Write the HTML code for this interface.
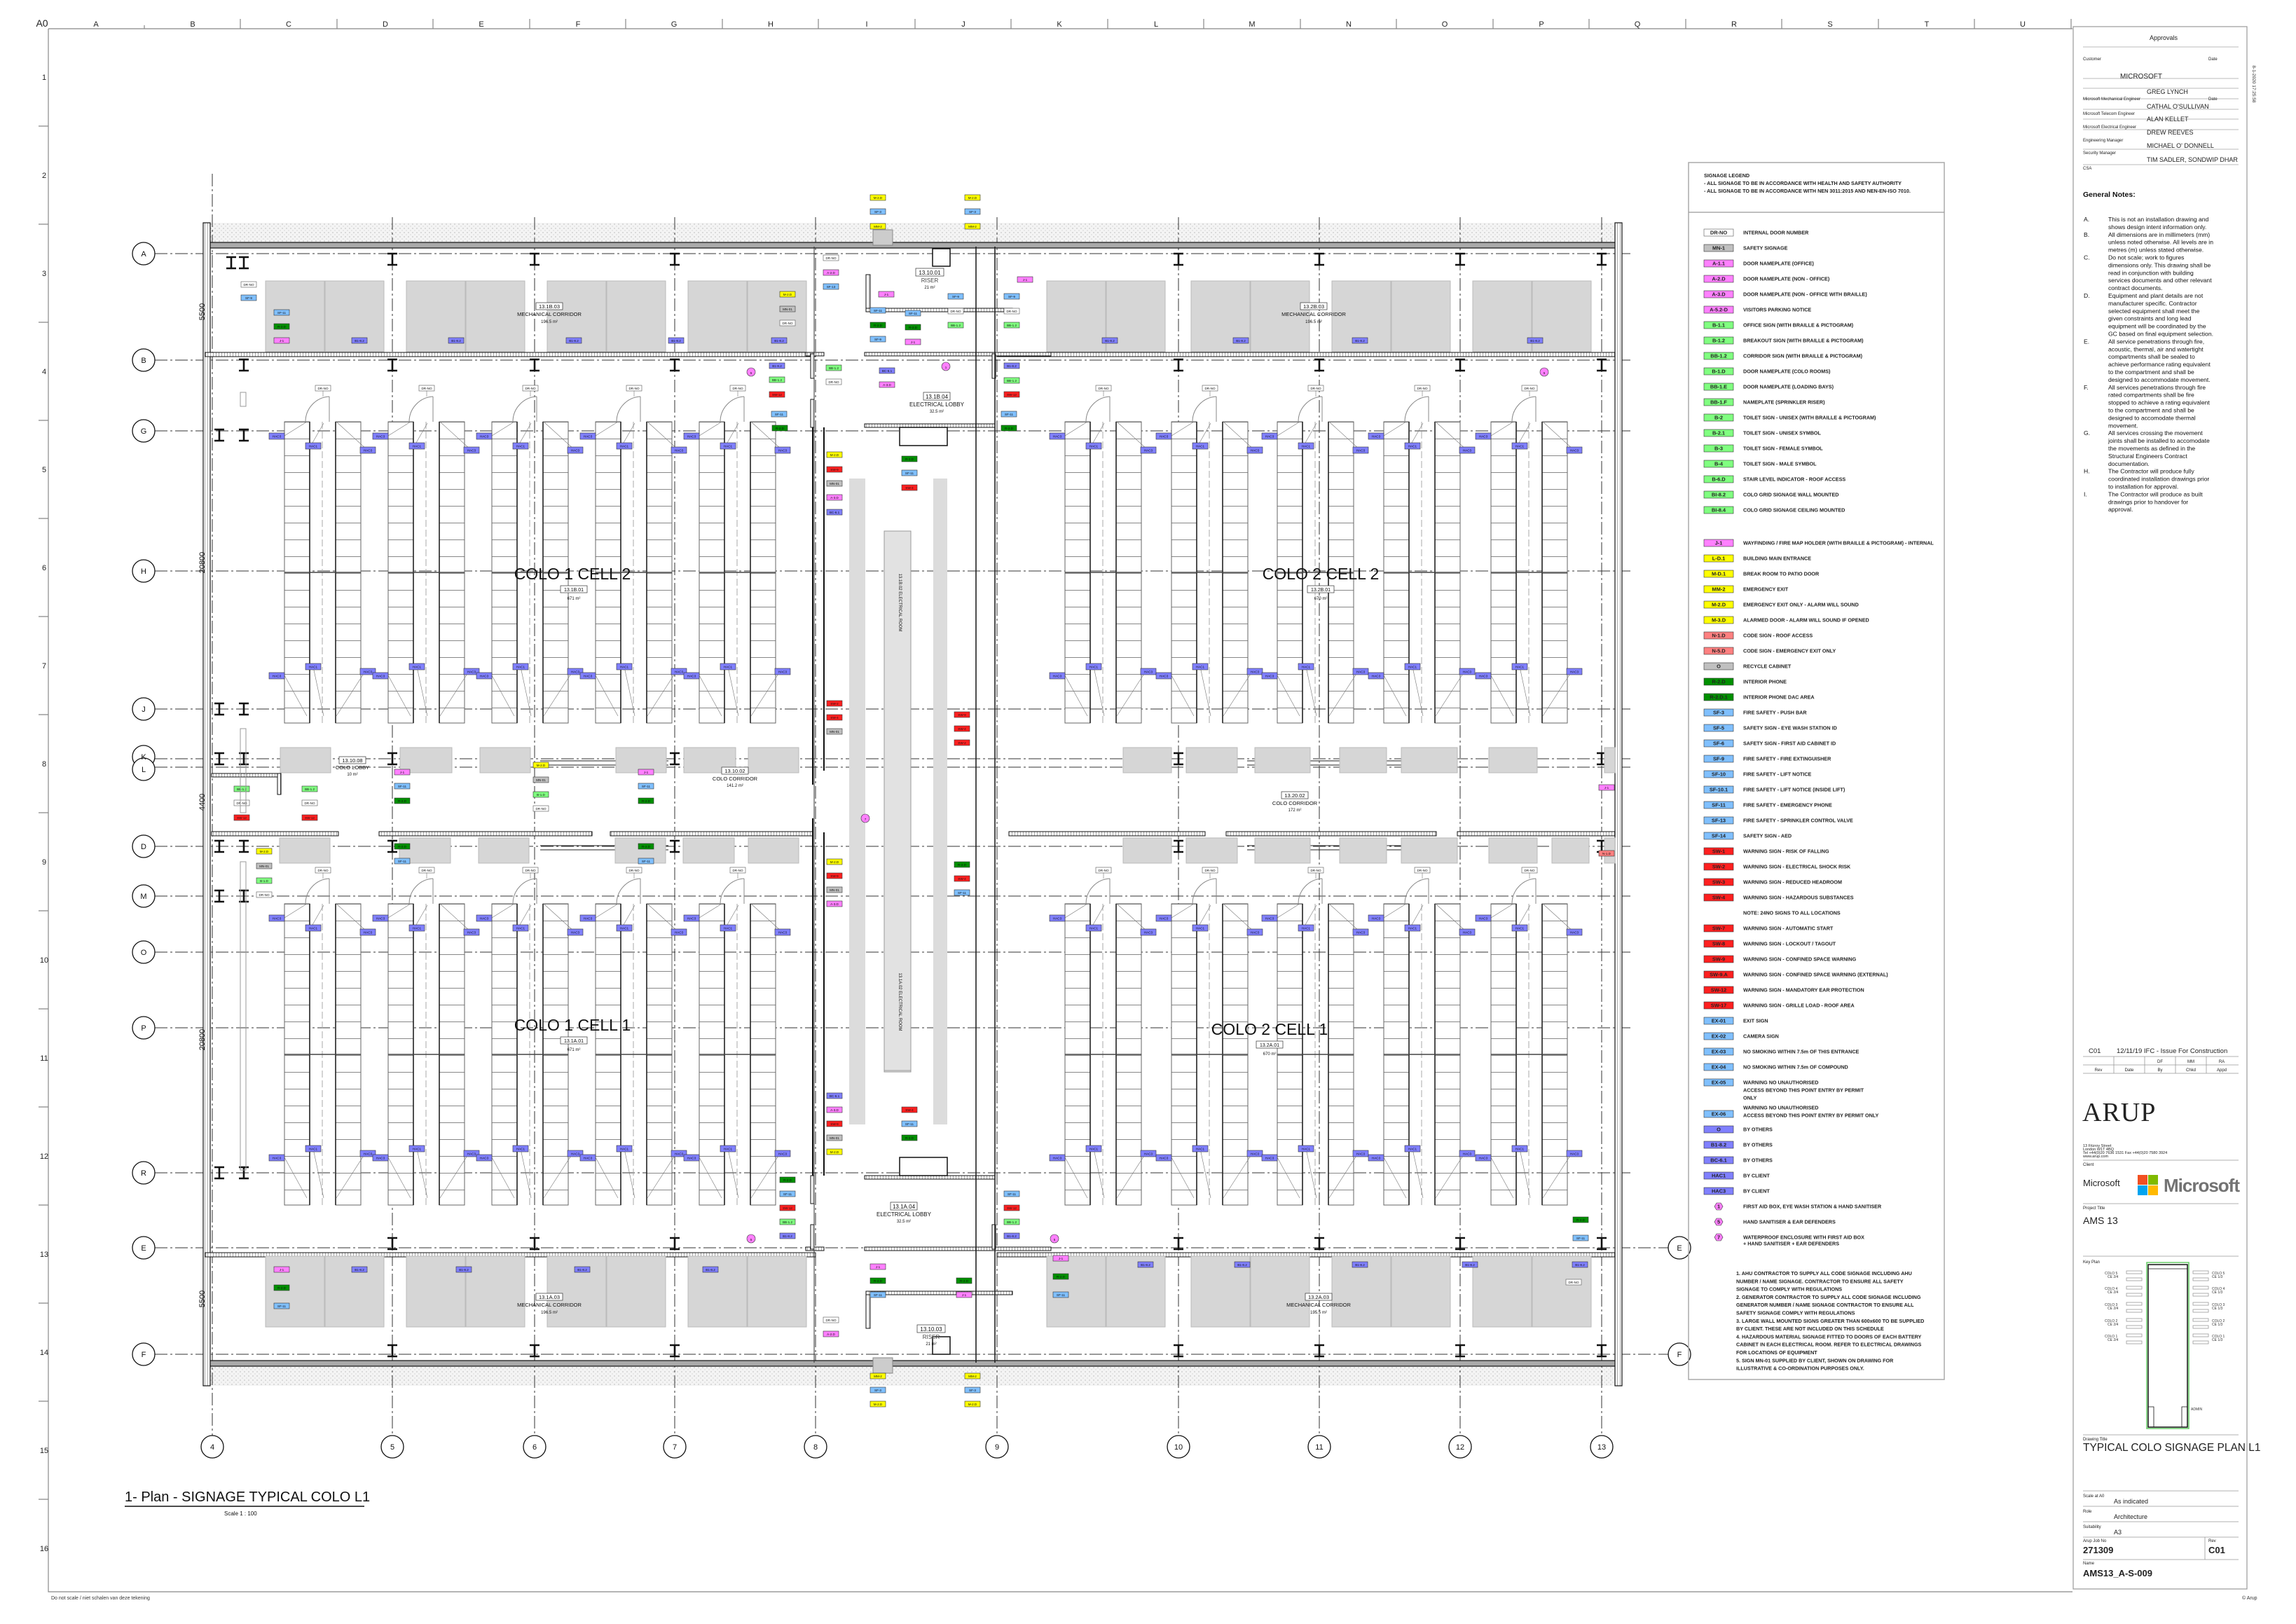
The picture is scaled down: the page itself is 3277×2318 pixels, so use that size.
<!DOCTYPE html>
<html><head><meta charset="utf-8"><style>
html,body{margin:0;padding:0;background:#fff;}
svg{display:block;font-family:"Liberation Sans",sans-serif;}
.tt{font-size:4.6px;text-anchor:middle;fill:#111}
.lg{font-size:7.2px;font-weight:bold;fill:#222}
.lb{font-size:7.4px;font-weight:bold;text-anchor:middle;fill:#222}
.pu{fill:#8080ff;stroke:#333;stroke-width:.6}
.pk{fill:#ff80ff;stroke:#333;stroke-width:.6}
.gr{fill:#80ff80;stroke:#333;stroke-width:.6}
.dg{fill:#009000;stroke:#333;stroke-width:.6}
.ye{fill:#ffff00;stroke:#333;stroke-width:.6}
.bl{fill:#80c0ff;stroke:#333;stroke-width:.6}
.rd{fill:#ff2020;stroke:#333;stroke-width:.6}
.sa{fill:#ff8080;stroke:#333;stroke-width:.6}
.gy{fill:#c0c0c0;stroke:#333;stroke-width:.6}
.wh{fill:#fff;stroke:#555;stroke-width:.6}
.gb{fill:#d6d6d6;stroke:#bbb;stroke-width:1}
.grid{stroke:#333;stroke-width:1;stroke-dasharray:18 4 3 4;fill:none}
.wall{fill:#aaa;stroke:#111;stroke-width:1.2}
.ld{stroke:#777;stroke-width:.6;fill:none}
.tb{font-size:6px;fill:#222}
.tn{font-size:8.5px;fill:#111}
.gn{font-size:8.6px;fill:#111}
</style></head><body>
<svg width="3277" height="2318" viewBox="0 0 3277 2318" xmlns="http://www.w3.org/2000/svg">
<defs>
<pattern id="rows" width="36" height="24" patternUnits="userSpaceOnUse"><rect width="36" height="24" fill="#fff"/><line x1="0" y1="0.5" x2="36" y2="0.5" stroke="#888" stroke-width="1"/></pattern>
<pattern id="dots" width="6" height="6" patternUnits="userSpaceOnUse"><rect width="6" height="6" fill="#f4f4f4"/><circle cx="1" cy="2" r=".6" fill="#999"/><circle cx="4" cy="5" r=".5" fill="#aaa"/></pattern>
<pattern id="hatch" width="4" height="4" patternUnits="userSpaceOnUse"><rect width="4" height="4" fill="#fff"/><line x1="0" y1="0" x2="0" y2="4" stroke="#555" stroke-width="1"/></pattern>
<g id="ib"><path d="M-7,-8H7M-7,8H7M0,-8V8" stroke="#111" stroke-width="2.6" fill="none"/></g>
<g id="rk">
<rect x="0" y="0" width="36" height="430" fill="url(#rows)" stroke="#666" stroke-width="1"/>
<rect x="73" y="0" width="36" height="430" fill="url(#rows)" stroke="#666" stroke-width="1"/>
<line x1="36" y1="0" x2="36" y2="430" stroke="#222" stroke-width="1.6"/>
<line x1="73" y1="0" x2="73" y2="430" stroke="#222" stroke-width="1.6"/>
<line x1="54" y1="0" x2="54" y2="430" stroke="#aaa" stroke-dasharray="10 4"/>
<line x1="0" y1="215" x2="109" y2="215" stroke="#444" stroke-width="1.4"/>
<path d="M64,0 V-36 M64,-36 A36,36 0 0 0 30,0" fill="none" stroke="#888" stroke-width="1"/>
<line x1="55" y1="-44" x2="55" y2="-36" class="ld"/>
<rect x="44" y="-52" width="22" height="8" class="wh"/><text x="55" y="-46.2" class="tt">DR-NO</text>
<path d="M0,20 L32,0 M40,30 L56,2 M118,40 L74,0 M0,362 L32,420 M40,345 L56,420 M118,352 L74,420" class="ld"/>
<rect x="-22" y="16" width="22" height="9" class="pu"/><text x="-11" y="22.3" class="tt">HAC3</text>
<rect x="30" y="30" width="22" height="9" class="pu"/><text x="41" y="36.3" class="tt">HAC1</text>
<rect x="108" y="36" width="22" height="9" class="pu"/><text x="119" y="42.3" class="tt">HAC3</text>
<rect x="-22" y="358" width="22" height="9" class="pu"/><text x="-11" y="364.3" class="tt">HAC3</text>
<rect x="30" y="345" width="22" height="9" class="pu"/><text x="41" y="351.3" class="tt">HAC1</text>
<rect x="108" y="352" width="22" height="9" class="pu"/><text x="119" y="358.3" class="tt">HAC3</text>
</g>
<g id="blk"><rect x="0" y="0" width="84" height="101" class="gb"/><rect x="85" y="0" width="84" height="101" class="gb"/></g>
</defs>

<!-- sheet frame -->
<g stroke="#888" stroke-width="1.2" fill="none">
<path d="M69,41 H2958 M69,41 V2272 H2958"/>
<path d="M206,36V41 M343,27V41 M481,27V41 M618,27V41 M756,27V41 M893,27V41 M1031,27V41 M1168,27V41 M1306,27V41 M1443,27V41 M1581,27V41 M1718,27V41 M1856,27V41 M1993,27V41 M2131,27V41 M2268,27V41 M2406,27V41 M2543,27V41 M2681,27V41 M2818,27V41 M2956,27V41"/>
<path d="M55,180H69 M55,320H69 M55,460H69 M55,600H69 M55,740H69 M55,880H69 M55,1020H69 M55,1160H69 M55,1300H69 M55,1440H69 M55,1580H69 M55,1720H69 M55,1860H69 M55,2000H69 M55,2140H69"/>
</g>
<g font-size="11" text-anchor="middle" fill="#222">
<text x="60" y="38" font-size="14">A0</text>
<text x="137" y="38">A</text><text x="275" y="38">B</text><text x="412" y="38">C</text><text x="550" y="38">D</text><text x="687" y="38">E</text><text x="825" y="38">F</text><text x="962" y="38">G</text><text x="1100" y="38">H</text><text x="1237" y="38">I</text><text x="1375" y="38">J</text><text x="1512" y="38">K</text><text x="1650" y="38">L</text><text x="1787" y="38">M</text><text x="1925" y="38">N</text><text x="2062" y="38">O</text><text x="2200" y="38">P</text><text x="2337" y="38">Q</text><text x="2475" y="38">R</text><text x="2612" y="38">S</text><text x="2750" y="38">T</text><text x="2887" y="38">U</text>
<text x="63" y="114">1</text><text x="63" y="254">2</text><text x="63" y="394">3</text><text x="63" y="534">4</text><text x="63" y="674">5</text><text x="63" y="814">6</text><text x="63" y="954">7</text><text x="63" y="1094">8</text><text x="63" y="1234">9</text><text x="63" y="1374">10</text><text x="63" y="1514">11</text><text x="63" y="1654">12</text><text x="63" y="1794">13</text><text x="63" y="1934">14</text><text x="63" y="2074">15</text><text x="63" y="2214">16</text>
</g>
<text x="73" y="2283" font-size="7" fill="#333">Do not scale / niet schalen van deze tekening</text>
<text x="3200" y="2283" font-size="7" fill="#333">© Arup</text>

<!-- exterior strips -->
<rect x="293" y="318" width="2021" height="28" fill="url(#dots)"/>
<rect x="293" y="1948" width="2021" height="30" fill="url(#dots)"/>

<!-- grids -->
<g class="grid">
<path d="M221,362H2330 M221,514H2330 M221,615H2330 M221,815H2330 M221,1012H2330 M221,1083H2330 M221,1095H2330 M221,1208H2330 M221,1279H2330 M221,1359H2330 M221,1467H2330 M221,1674H2330 M221,1781H2381 M221,1933H2381"/>
<path d="M303,248V2049 M560,310V2049 M763,310V2049 M963,310V2049 M1164,310V2049 M1423,310V2049 M1682,310V2049 M1883,310V2049 M2084,310V2049 M2286,310V2049"/>
</g>
<g fill="#fff" stroke="#111" stroke-width="1.3">
<circle cx="205" cy="362" r="16"/><circle cx="205" cy="514" r="16"/><circle cx="205" cy="615" r="16"/><circle cx="205" cy="815" r="16"/><circle cx="205" cy="1012" r="16"/><circle cx="205" cy="1080" r="16"/><circle cx="205" cy="1098" r="16"/><circle cx="205" cy="1208" r="16"/><circle cx="205" cy="1279" r="16"/><circle cx="205" cy="1359" r="16"/><circle cx="205" cy="1467" r="16"/><circle cx="205" cy="1674" r="16"/><circle cx="205" cy="1781" r="16"/><circle cx="205" cy="1933" r="16"/>
<circle cx="2397" cy="1781" r="16"/><circle cx="2397" cy="1933" r="16"/>
<circle cx="303" cy="2065" r="16"/><circle cx="560" cy="2065" r="16"/><circle cx="763" cy="2065" r="16"/><circle cx="963" cy="2065" r="16"/><circle cx="1164" cy="2065" r="16"/><circle cx="1423" cy="2065" r="16"/><circle cx="1682" cy="2065" r="16"/><circle cx="1883" cy="2065" r="16"/><circle cx="2084" cy="2065" r="16"/><circle cx="2286" cy="2065" r="16"/>
</g>
<g font-size="11" text-anchor="middle" fill="#111">
<text x="205" y="366">A</text><text x="205" y="518">B</text><text x="205" y="619">G</text><text x="205" y="819">H</text><text x="205" y="1016">J</text><text x="205" y="1084">K</text><text x="205" y="1102">L</text><text x="205" y="1212">D</text><text x="205" y="1283">M</text><text x="205" y="1363">O</text><text x="205" y="1471">P</text><text x="205" y="1678">R</text><text x="205" y="1785">E</text><text x="205" y="1937">F</text>
<text x="2397" y="1785">E</text><text x="2397" y="1937">F</text>
<text x="303" y="2069">4</text><text x="560" y="2069">5</text><text x="763" y="2069">6</text><text x="963" y="2069">7</text><text x="1164" y="2069">8</text><text x="1423" y="2069">9</text><text x="1682" y="2069">10</text><text x="1883" y="2069">11</text><text x="2084" y="2069">12</text><text x="2286" y="2069">13</text>
</g>

<!-- outer walls -->
<rect x="293" y="346" width="2021" height="8" class="wall"/>
<rect x="293" y="1942" width="2021" height="8" class="wall"/>
<rect x="290" y="318" width="10" height="1660" fill="url(#hatch)" stroke="#111" stroke-width="1.2"/>
<rect x="2305" y="318" width="10" height="1660" fill="url(#hatch)" stroke="#111" stroke-width="1.2"/>
<rect x="293" y="503" width="871" height="6" fill="url(#hatch)" stroke="#111"/>
<rect x="1423" y="503" width="882" height="6" fill="url(#hatch)" stroke="#111"/>
<rect x="293" y="1788" width="871" height="6" fill="url(#hatch)" stroke="#111"/>
<rect x="1423" y="1788" width="882" height="6" fill="url(#hatch)" stroke="#111"/>
<g fill="url(#hatch)" stroke="#111">
<rect x="302" y="1187" width="181" height="6"/><rect x="541" y="1187" width="304" height="6"/><rect x="871" y="1187" width="289" height="6"/>
<rect x="1440" y="1187" width="280" height="6"/><rect x="1750" y="1187" width="300" height="6"/><rect x="2080" y="1187" width="225" height="6"/>
<rect x="302" y="1104" width="98" height="5"/><rect x="396" y="1104" width="5" height="30"/>
</g>
<path d="M771,1086H954 M771,1092H954 M771,1207H954 M771,1213H954 M1780,1086H2000 M1780,1092H2000 M1780,1207H2000 M1780,1213H2000" stroke="#222" stroke-width="1"/>

<!-- I-beams -->
<g>
<use href="#ib" x="560" y="370"/><use href="#ib" x="763" y="370"/><use href="#ib" x="963" y="370"/><use href="#ib" x="1682" y="370"/><use href="#ib" x="1883" y="370"/><use href="#ib" x="2084" y="370"/><use href="#ib" x="2286" y="370"/>
<use href="#ib" x="330" y="375"/><use href="#ib" x="348" y="375"/>
<use href="#ib" x="560" y="521"/><use href="#ib" x="763" y="521"/><use href="#ib" x="963" y="521"/><use href="#ib" x="1682" y="521"/><use href="#ib" x="1883" y="521"/><use href="#ib" x="2084" y="521"/><use href="#ib" x="2286" y="521"/><use href="#ib" x="348" y="521"/>
<use href="#ib" x="313" y="621"/><use href="#ib" x="348" y="621"/><use href="#ib" x="313" y="1012"/><use href="#ib" x="348" y="1012"/>
<use href="#ib" x="313" y="1083"/><use href="#ib" x="348" y="1083"/><use href="#ib" x="560" y="1083"/><use href="#ib" x="963" y="1083"/><use href="#ib" x="1682" y="1083"/><use href="#ib" x="2286" y="1083"/>
<use href="#ib" x="313" y="1208"/><use href="#ib" x="348" y="1208"/><use href="#ib" x="560" y="1208"/><use href="#ib" x="963" y="1208"/><use href="#ib" x="1682" y="1208"/><use href="#ib" x="2286" y="1208"/>
<use href="#ib" x="313" y="1279"/><use href="#ib" x="348" y="1279"/><use href="#ib" x="313" y="1674"/><use href="#ib" x="348" y="1674"/>
<use href="#ib" x="560" y="1775"/><use href="#ib" x="763" y="1775"/><use href="#ib" x="963" y="1775"/><use href="#ib" x="1682" y="1775"/><use href="#ib" x="1883" y="1775"/><use href="#ib" x="2084" y="1775"/><use href="#ib" x="2286" y="1775"/>
<use href="#ib" x="560" y="1928"/><use href="#ib" x="763" y="1928"/><use href="#ib" x="963" y="1928"/><use href="#ib" x="1682" y="1928"/><use href="#ib" x="1883" y="1928"/><use href="#ib" x="2084" y="1928"/><use href="#ib" x="2286" y="1928"/>
</g>

<!-- mechanical corridors -->
<use href="#blk" x="379" y="401"/><use href="#blk" x="580" y="401"/><use href="#blk" x="781" y="401"/><use href="#blk" x="982" y="401"/>
<use href="#blk" x="1494" y="401"/><use href="#blk" x="1700" y="401"/><use href="#blk" x="1901" y="401"/><use href="#blk" x="2102" y="401"/>
<use href="#blk" x="379" y="1793"/><use href="#blk" x="580" y="1793"/><use href="#blk" x="781" y="1793"/><use href="#blk" x="982" y="1793"/>
<use href="#blk" x="1494" y="1793"/><use href="#blk" x="1700" y="1793"/><use href="#blk" x="1901" y="1793"/><use href="#blk" x="2102" y="1793"/>

<g font-size="7.5" text-anchor="middle" fill="#111">
<rect x="765" y="432" width="38" height="10" fill="#fff" stroke="#333" stroke-width=".7"/><text x="784" y="440">13.1B.03</text><text x="784" y="451">MECHANICAL CORRIDOR</text><text x="784" y="461" font-size="6">196.5 m²</text>
<rect x="1856" y="432" width="38" height="10" fill="#fff" stroke="#333" stroke-width=".7"/><text x="1875" y="440">13.2B.03</text><text x="1875" y="451">MECHANICAL CORRIDOR</text><text x="1875" y="461" font-size="6">196.5 m²</text>
<rect x="765" y="1846" width="38" height="10" fill="#fff" stroke="#333" stroke-width=".7"/><text x="784" y="1854">13.1A.03</text><text x="784" y="1865">MECHANICAL CORRIDOR</text><text x="784" y="1875" font-size="6">196.5 m²</text>
<rect x="1863" y="1846" width="38" height="10" fill="#fff" stroke="#333" stroke-width=".7"/><text x="1882" y="1854">13.2A.03</text><text x="1882" y="1865">MECHANICAL CORRIDOR</text><text x="1882" y="1875" font-size="6">195.5 m²</text>
</g>
<!-- mech corridor tags -->
<g>
<rect x="344" y="402" width="22" height="8" class="wh"/><text x="355" y="408" class="tt">DR-NO</text>
<rect x="344" y="421" width="22" height="8" class="bl"/><text x="355" y="427" class="tt">SF-9</text>
<rect x="391" y="442" width="22" height="8" class="bl"/><text x="402" y="448" class="tt">SF-11</text>
<rect x="391" y="462" width="22" height="8" class="dg"/><text x="402" y="468" class="tt">R-2.D</text>
<rect x="391" y="482" width="22" height="8" class="pk"/><text x="402" y="488" class="tt">J-1</text>
<rect x="502" y="482" width="22" height="8" class="pu"/><text x="513" y="488" class="tt">B1-8.2</text>
<rect x="640" y="482" width="22" height="8" class="pu"/><text x="651" y="488" class="tt">B1-8.2</text>
<rect x="808" y="482" width="22" height="8" class="pu"/><text x="819" y="488" class="tt">B1-8.2</text>
<rect x="954" y="482" width="22" height="8" class="pu"/><text x="965" y="488" class="tt">B1-8.2</text>
<rect x="1573" y="482" width="22" height="8" class="pu"/><text x="1584" y="488" class="tt">B1-8.2</text>
<rect x="1760" y="482" width="22" height="8" class="pu"/><text x="1771" y="488" class="tt">B1-8.2</text>
<rect x="1930" y="482" width="22" height="8" class="pu"/><text x="1941" y="488" class="tt">B1-8.2</text>
<rect x="2180" y="482" width="22" height="8" class="pu"/><text x="2191" y="488" class="tt">B1-8.2</text>
<rect x="391" y="1808" width="22" height="8" class="pk"/><text x="402" y="1814" class="tt">J-1</text>
<rect x="391" y="1834" width="22" height="8" class="dg"/><text x="402" y="1840" class="tt">R-2.D</text>
<rect x="391" y="1860" width="22" height="8" class="bl"/><text x="402" y="1866" class="tt">SF-11</text>
<rect x="502" y="1808" width="22" height="8" class="pu"/><text x="513" y="1814" class="tt">B1-8.2</text>
<rect x="651" y="1808" width="22" height="8" class="pu"/><text x="662" y="1814" class="tt">B1-8.2</text>
<rect x="820" y="1808" width="22" height="8" class="pu"/><text x="831" y="1814" class="tt">B1-8.2</text>
<rect x="1003" y="1808" width="22" height="8" class="pu"/><text x="1014" y="1814" class="tt">B1-8.2</text>
<rect x="1503" y="1792" width="22" height="8" class="pk"/><text x="1514" y="1798" class="tt">J-1</text>
<rect x="1503" y="1818" width="22" height="8" class="dg"/><text x="1514" y="1824" class="tt">R-2.D</text>
<rect x="1503" y="1844" width="22" height="8" class="bl"/><text x="1514" y="1850" class="tt">SF-11</text>
<rect x="1624" y="1801" width="22" height="8" class="pu"/><text x="1635" y="1807" class="tt">B1-8.2</text>
<rect x="1762" y="1801" width="22" height="8" class="pu"/><text x="1773" y="1807" class="tt">B1-8.2</text>
<rect x="1930" y="1801" width="22" height="8" class="pu"/><text x="1941" y="1807" class="tt">B1-8.2</text>
<rect x="2087" y="1801" width="22" height="8" class="pu"/><text x="2098" y="1807" class="tt">B1-8.2</text>
<rect x="2244" y="1801" width="22" height="8" class="pu"/><text x="2255" y="1807" class="tt">B1-8.2</text>
<rect x="2235" y="1826" width="22" height="8" class="wh"/><text x="2246" y="1832" class="tt">DR-NO</text>
<rect x="2245" y="1737" width="22" height="8" class="dg"/><text x="2256" y="1743" class="tt">R-2.D</text>
<rect x="2245" y="1763" width="22" height="8" class="bl"/><text x="2256" y="1769" class="tt">SF-11</text>
</g>

<!-- middle corridor gray boxes -->
<g class="gb">
<rect x="400" y="1067" width="72" height="36"/><rect x="571" y="1067" width="74" height="36"/><rect x="685" y="1067" width="72" height="36"/><rect x="879" y="1067" width="72" height="36"/><rect x="976" y="1067" width="74" height="36"/><rect x="1068" y="1067" width="72" height="36"/>
<rect x="399" y="1196" width="72" height="36"/><rect x="570" y="1196" width="73" height="36"/><rect x="683" y="1196" width="72" height="36"/><rect x="878" y="1196" width="72" height="36"/><rect x="975" y="1196" width="73" height="36"/><rect x="1068" y="1196" width="72" height="36"/>
<rect x="1603" y="1067" width="69" height="36"/><rect x="1693" y="1067" width="73" height="36"/><rect x="1791" y="1067" width="79" height="36"/><rect x="1912" y="1067" width="67" height="36"/><rect x="2000" y="1067" width="80" height="36"/><rect x="2125" y="1067" width="69" height="36"/><rect x="2290" y="1067" width="15" height="36"/>
<rect x="1603" y="1196" width="69" height="36"/><rect x="1693" y="1196" width="73" height="36"/><rect x="1791" y="1196" width="79" height="36"/><rect x="1912" y="1196" width="67" height="36"/><rect x="2000" y="1196" width="80" height="36"/><rect x="2125" y="1196" width="69" height="36"/><rect x="2215" y="1196" width="53" height="36"/><rect x="2290" y="1196" width="15" height="36"/>
</g>
<!-- middle corridor tags -->
<g>
<rect x="334" y="1122" width="22" height="8" class="gr"/><text x="345" y="1128" class="tt">BB-1.2</text>
<rect x="431" y="1122" width="22" height="8" class="gr"/><text x="442" y="1128" class="tt">BB-1.2</text>
<rect x="334" y="1142" width="22" height="8" class="wh"/><text x="345" y="1148" class="tt">DR-NO</text>
<rect x="431" y="1142" width="22" height="8" class="wh"/><text x="442" y="1148" class="tt">DR-NO</text>
<rect x="334" y="1163" width="22" height="8" class="rd"/><text x="345" y="1169" class="tt">SW-12</text>
<rect x="431" y="1163" width="22" height="8" class="rd"/><text x="442" y="1169" class="tt">SW-12</text>
<rect x="366" y="1211" width="22" height="8" class="ye"/><text x="377" y="1217" class="tt">M-2.D</text>
<rect x="366" y="1232" width="22" height="8" class="gy"/><text x="377" y="1238" class="tt">MN-01</text>
<rect x="366" y="1253" width="22" height="8" class="gr"/><text x="377" y="1259" class="tt">B-1.D</text>
<rect x="366" y="1273" width="22" height="8" class="wh"/><text x="377" y="1279" class="tt">DR-NO</text>
<rect x="563" y="1098" width="22" height="8" class="pk"/><text x="574" y="1104" class="tt">J-1</text>
<rect x="563" y="1118" width="22" height="8" class="bl"/><text x="574" y="1124" class="tt">SF-11</text>
<rect x="563" y="1139" width="22" height="8" class="dg"/><text x="574" y="1145" class="tt">R-2.D</text>
<rect x="563" y="1204" width="22" height="8" class="dg"/><text x="574" y="1210" class="tt">R-2.D</text>
<rect x="563" y="1225" width="22" height="8" class="bl"/><text x="574" y="1231" class="tt">SF-11</text>
<rect x="761" y="1088" width="22" height="8" class="ye"/><text x="772" y="1094" class="tt">M-2.D</text>
<rect x="761" y="1109" width="22" height="8" class="gy"/><text x="772" y="1115" class="tt">MN-01</text>
<rect x="761" y="1130" width="22" height="8" class="gr"/><text x="772" y="1136" class="tt">B-1.D</text>
<rect x="761" y="1150" width="22" height="8" class="wh"/><text x="772" y="1156" class="tt">DR-NO</text>
<rect x="911" y="1098" width="22" height="8" class="pk"/><text x="922" y="1104" class="tt">J-1</text>
<rect x="911" y="1118" width="22" height="8" class="bl"/><text x="922" y="1124" class="tt">SF-11</text>
<rect x="911" y="1139" width="22" height="8" class="dg"/><text x="922" y="1145" class="tt">R-2.D</text>
<rect x="911" y="1204" width="22" height="8" class="dg"/><text x="922" y="1210" class="tt">R-2.D</text>
<rect x="911" y="1225" width="22" height="8" class="bl"/><text x="922" y="1231" class="tt">SF-11</text>
<rect x="2282" y="1120" width="22" height="8" class="pk"/><text x="2293" y="1126" class="tt">J-1</text>
<rect x="2282" y="1214" width="22" height="8" class="sa"/><text x="2293" y="1220" class="tt">N-1.D</text>
<rect x="484" y="1080" width="38" height="10" fill="#fff" stroke="#333" stroke-width=".7"/>
</g>
<g font-size="7.5" text-anchor="middle" fill="#111">
<text x="503" y="1088">13.10.08</text><text x="503" y="1098">COLO LOBBY</text><text x="503" y="1107" font-size="6">10 m²</text>
<rect x="1030" y="1095" width="38" height="10" fill="#fff" stroke="#333" stroke-width=".7"/><text x="1049" y="1103">13.10.02</text><text x="1049" y="1114">COLO CORRIDOR</text><text x="1049" y="1123" font-size="6">141.2 m²</text>
<rect x="1829" y="1130" width="38" height="10" fill="#fff" stroke="#333" stroke-width=".7"/><text x="1848" y="1138">13.20.02</text><text x="1848" y="1149">COLO CORRIDOR</text><text x="1848" y="1158" font-size="6">172 m²</text>
</g>

<!-- racks -->
<use href="#rk" x="406" y="602"/><use href="#rk" x="554" y="602"/><use href="#rk" x="702" y="602"/><use href="#rk" x="850" y="602"/><use href="#rk" x="998" y="602"/>
<use href="#rk" x="1520" y="602"/><use href="#rk" x="1672" y="602"/><use href="#rk" x="1823" y="602"/><use href="#rk" x="1975" y="602"/><use href="#rk" x="2128" y="602"/>
<use href="#rk" x="406" y="1290"/><use href="#rk" x="554" y="1290"/><use href="#rk" x="702" y="1290"/><use href="#rk" x="850" y="1290"/><use href="#rk" x="998" y="1290"/>
<use href="#rk" x="1520" y="1290"/><use href="#rk" x="1672" y="1290"/><use href="#rk" x="1823" y="1290"/><use href="#rk" x="1975" y="1290"/><use href="#rk" x="2128" y="1290"/>

<g font-size="23" text-anchor="middle" fill="#111">
<text x="817" y="827">COLO 1 CELL 2</text><text x="1885" y="827">COLO 2 CELL 2</text>
<text x="817" y="1471">COLO 1 CELL 1</text><text x="1812" y="1477">COLO 2 CELL 1</text>
</g>
<g font-size="7" text-anchor="middle" fill="#111">
<rect x="800" y="836" width="38" height="10" fill="#fff" stroke="#333" stroke-width=".7"/><text x="819" y="844">13.1B.01</text><text x="819" y="856" font-size="6">671 m²</text>
<rect x="1866" y="836" width="38" height="10" fill="#fff" stroke="#333" stroke-width=".7"/><text x="1885" y="844">13.2B.01</text><text x="1885" y="856" font-size="6">670 m²</text>
<rect x="800" y="1480" width="38" height="10" fill="#fff" stroke="#333" stroke-width=".7"/><text x="819" y="1488">13.1A.01</text><text x="819" y="1500" font-size="6">671 m²</text>
<rect x="1793" y="1486" width="38" height="10" fill="#fff" stroke="#333" stroke-width=".7"/><text x="1812" y="1494">13.2A.01</text><text x="1812" y="1506" font-size="6">670 m²</text>
</g>
<g stroke="#999" fill="none" stroke-width="1">
<rect x="343" y="1040" width="8" height="120"/><rect x="343" y="1230" width="8" height="440"/><rect x="343" y="560" width="8" height="20"/>
</g>

<!-- dims -->
<g font-size="11" fill="#111" text-anchor="middle">
<text transform="translate(292,445) rotate(-90)">5500</text>
<text transform="translate(292,803) rotate(-90)">20800</text>
<text transform="translate(292,1145) rotate(-90)">4400</text>
<text transform="translate(292,1484) rotate(-90)">20800</text>
<text transform="translate(292,1854) rotate(-90)">5500</text>
</g>

<!-- central spine -->
<g id="spine">
<rect x="1246" y="328" width="28" height="22" fill="#ccc" stroke="#888"/>
<rect x="1236" y="392" width="6" height="51" fill="url(#hatch)" stroke="#111"/>
<rect x="1236" y="440" width="209" height="5" fill="url(#hatch)" stroke="#111"/>
<rect x="1234" y="503" width="266" height="5" fill="url(#hatch)" stroke="#111"/>
<rect x="1150" y="503" width="26" height="5" fill="url(#hatch)" stroke="#111"/>
<rect x="1157" y="505" width="5" height="35" fill="url(#hatch)" stroke="#111"/>
<rect x="1157" y="570" width="5" height="40" fill="url(#hatch)" stroke="#111"/>
<rect x="1416" y="505" width="5" height="35" fill="url(#hatch)" stroke="#111"/>
<rect x="1234" y="605" width="186" height="5" fill="url(#hatch)" stroke="#111"/>
<rect x="1284" y="610" width="68" height="26" fill="#fff" stroke="#111" stroke-width="1.5"/>
<rect x="1331" y="355" width="25" height="25" fill="#fff" stroke="#111" stroke-width="1.5"/>
<rect x="1212" y="683" width="23" height="920" fill="#dcdcdc"/>
<rect x="1332" y="683" width="20" height="920" fill="#dcdcdc"/>
<rect x="1262" y="760" width="38" height="770" fill="#e2e2e2" stroke="#999"/>
<path d="M1160,610V1120 M1176,610V1100" stroke="#111" stroke-width="2"/>
</g>
<use href="#spine" transform="matrix(1,0,0,-1,0,2288)"/>
<path d="M1393,352V1945 M1420,352V1945" stroke="#222" stroke-width="1.6"/>
<path d="M1162,352V1945" stroke="#333" stroke-width="1"/>
<g font-size="8" text-anchor="middle" fill="#111">
<rect x="1307" y="383" width="40" height="11" fill="#fff" stroke="#333" stroke-width=".7"/><text x="1327" y="392">13.10.01</text><text x="1327" y="403" fill="#444">RISER</text><text x="1327" y="412" font-size="6">21 m²</text>
<rect x="1318" y="560" width="38" height="11" fill="#fff" stroke="#333" stroke-width=".7"/><text x="1337" y="569">13.1B.04</text><text x="1337" y="580">ELECTRICAL LOBBY</text><text x="1337" y="589" font-size="6">32.5 m²</text>
<rect x="1271" y="1716" width="38" height="11" fill="#fff" stroke="#333" stroke-width=".7"/><text x="1290" y="1725">13.1A.04</text><text x="1290" y="1736">ELECTRICAL LOBBY</text><text x="1290" y="1745" font-size="6">32.5 m²</text>
<rect x="1309" y="1891" width="40" height="11" fill="#fff" stroke="#333" stroke-width=".7"/><text x="1329" y="1900">13.10.03</text><text x="1329" y="1911" fill="#444">RISER</text><text x="1329" y="1920" font-size="6">21 m²</text>
<text transform="translate(1283,860) rotate(90)" font-size="6">13.1B.02 ELECTRICAL ROOM</text>
<text transform="translate(1283,1430) rotate(90)" font-size="6">13.1A.02 ELECTRICAL ROOM</text>
</g>
<!-- central tags -->
<g>
<rect x="1242" y="278" width="22" height="8" class="ye"/><text x="1253" y="284" class="tt">M-2.D</text>
<rect x="1242" y="298" width="22" height="8" class="bl"/><text x="1253" y="304" class="tt">SF-3</text>
<rect x="1242" y="319" width="22" height="8" class="ye"/><text x="1253" y="325" class="tt">MM-2</text>
<rect x="1377" y="278" width="22" height="8" class="ye"/><text x="1388" y="284" class="tt">M-2.D</text>
<rect x="1377" y="298" width="22" height="8" class="bl"/><text x="1388" y="304" class="tt">SF-3</text>
<rect x="1377" y="319" width="22" height="8" class="ye"/><text x="1388" y="325" class="tt">MM-2</text>
<rect x="1175" y="364" width="22" height="8" class="wh"/><text x="1186" y="370" class="tt">DR-NO</text>
<rect x="1175" y="385" width="22" height="8" class="pk"/><text x="1186" y="391" class="tt">A-2.D</text>
<rect x="1175" y="405" width="22" height="8" class="bl"/><text x="1186" y="411" class="tt">SF-13</text>
<rect x="1113" y="416" width="22" height="8" class="ye"/><text x="1124" y="422" class="tt">M-2.D</text>
<rect x="1113" y="437" width="22" height="8" class="gy"/><text x="1124" y="443" class="tt">MN-01</text>
<rect x="1113" y="457" width="22" height="8" class="wh"/><text x="1124" y="463" class="tt">DR-NO</text>
<rect x="1101" y="482" width="22" height="8" class="pu"/><text x="1112" y="488" class="tt">B1-8.2</text>
<rect x="1254" y="416" width="22" height="8" class="pk"/><text x="1265" y="422" class="tt">J-1</text>
<rect x="1242" y="439" width="22" height="8" class="bl"/><text x="1253" y="445" class="tt">SF-11</text>
<rect x="1242" y="460" width="22" height="8" class="dg"/><text x="1253" y="466" class="tt">R-2.D</text>
<rect x="1242" y="480" width="22" height="8" class="bl"/><text x="1253" y="486" class="tt">SF-9</text>
<rect x="1353" y="419" width="22" height="8" class="bl"/><text x="1364" y="425" class="tt">SF-9</text>
<rect x="1292" y="443" width="22" height="8" class="bl"/><text x="1303" y="449" class="tt">SF-11</text>
<rect x="1292" y="463" width="22" height="8" class="dg"/><text x="1303" y="469" class="tt">R-2.D</text>
<rect x="1292" y="484" width="22" height="8" class="pk"/><text x="1303" y="490" class="tt">J-1</text>
<rect x="1353" y="440" width="22" height="8" class="wh"/><text x="1364" y="446" class="tt">DR-NO</text>
<rect x="1353" y="460" width="22" height="8" class="gr"/><text x="1364" y="466" class="tt">BB-1.2</text>
<rect x="1452" y="395" width="22" height="8" class="pk"/><text x="1463" y="401" class="tt">J-1</text>
<rect x="1433" y="419" width="22" height="8" class="bl"/><text x="1444" y="425" class="tt">SF-9</text>
<rect x="1433" y="440" width="22" height="8" class="wh"/><text x="1444" y="446" class="tt">DR-NO</text>
<rect x="1433" y="460" width="22" height="8" class="gr"/><text x="1444" y="466" class="tt">BB-1.2</text>
<circle cx="1350" cy="523" r="6" fill="#ff80ff" stroke="#333" stroke-width=".6"/><text x="1350" y="526" class="tt" font-size="7">1</text>
<rect x="1098" y="518" width="22" height="8" class="pu"/><text x="1109" y="524" class="tt">B1-8.2</text>
<rect x="1179" y="521" width="22" height="8" class="gr"/><text x="1190" y="527" class="tt">BB-1.2</text>
<rect x="1098" y="538" width="22" height="8" class="gr"/><text x="1109" y="544" class="tt">BB-1.2</text>
<rect x="1179" y="541" width="22" height="8" class="wh"/><text x="1190" y="547" class="tt">DR-NO</text>
<rect x="1098" y="559" width="22" height="8" class="rd"/><text x="1109" y="565" class="tt">SW-12</text>
<rect x="1101" y="587" width="22" height="8" class="bl"/><text x="1112" y="593" class="tt">SF-11</text>
<rect x="1102" y="607" width="22" height="8" class="dg"/><text x="1113" y="613" class="tt">R-2.D</text>
<rect x="1255" y="525" width="22" height="8" class="pu"/><text x="1266" y="531" class="tt">BC-6.1</text>
<rect x="1255" y="545" width="22" height="8" class="pk"/><text x="1266" y="551" class="tt">A-3.D</text>
<rect x="1433" y="518" width="22" height="8" class="pu"/><text x="1444" y="524" class="tt">B1-8.2</text>
<rect x="1433" y="539" width="22" height="8" class="gr"/><text x="1444" y="545" class="tt">BB-1.2</text>
<rect x="1433" y="559" width="22" height="8" class="rd"/><text x="1444" y="565" class="tt">SW-12</text>
<rect x="1429" y="587" width="22" height="8" class="bl"/><text x="1440" y="593" class="tt">SF-11</text>
<rect x="1429" y="607" width="22" height="8" class="dg"/><text x="1440" y="613" class="tt">R-2.D</text>
<rect x="1180" y="645" width="22" height="8" class="ye"/><text x="1191" y="651" class="tt">M-2.D</text>
<rect x="1180" y="666" width="22" height="8" class="rd"/><text x="1191" y="672" class="tt">SW-9</text>
<rect x="1180" y="686" width="22" height="8" class="gy"/><text x="1191" y="692" class="tt">MN-01</text>
<rect x="1180" y="706" width="22" height="8" class="pk"/><text x="1191" y="712" class="tt">A-3.D</text>
<rect x="1180" y="727" width="22" height="8" class="pu"/><text x="1191" y="733" class="tt">BC-6.1</text>
<rect x="1287" y="651" width="22" height="8" class="dg"/><text x="1298" y="657" class="tt">R-3.D</text>
<rect x="1287" y="671" width="22" height="8" class="bl"/><text x="1298" y="677" class="tt">SF-11</text>
<rect x="1287" y="692" width="22" height="8" class="rd"/><text x="1298" y="698" class="tt">SW-4</text>
<rect x="1362" y="1016" width="22" height="8" class="rd"/><text x="1373" y="1022" class="tt">SW-9</text>
<rect x="1362" y="1036" width="22" height="8" class="rd"/><text x="1373" y="1042" class="tt">SW-4</text>
<rect x="1362" y="1056" width="22" height="8" class="rd"/><text x="1373" y="1062" class="tt">SW-2</text>
<rect x="1180" y="1000" width="22" height="8" class="rd"/><text x="1191" y="1006" class="tt">SW-2</text>
<rect x="1180" y="1020" width="22" height="8" class="rd"/><text x="1191" y="1026" class="tt">SW-4</text>
<rect x="1180" y="1040" width="22" height="8" class="gy"/><text x="1191" y="1046" class="tt">MN-01</text>
<circle cx="1235" cy="1168" r="6" fill="#ff80ff" stroke="#333" stroke-width=".6"/><text x="1235" y="1171" class="tt" font-size="7">7</text>
<rect x="1180" y="1226" width="22" height="8" class="ye"/><text x="1191" y="1232" class="tt">M-2.D</text>
<rect x="1180" y="1246" width="22" height="8" class="rd"/><text x="1191" y="1252" class="tt">SW-9</text>
<rect x="1180" y="1266" width="22" height="8" class="gy"/><text x="1191" y="1272" class="tt">MN-01</text>
<rect x="1180" y="1286" width="22" height="8" class="pk"/><text x="1191" y="1292" class="tt">A-3.D</text>
<rect x="1362" y="1230" width="22" height="8" class="dg"/><text x="1373" y="1236" class="tt">R-2.D</text>
<rect x="1362" y="1250" width="22" height="8" class="rd"/><text x="1373" y="1256" class="tt">SW-4</text>
<rect x="1362" y="1270" width="22" height="8" class="bl"/><text x="1373" y="1276" class="tt">SF-11</text>
<rect x="1180" y="1560" width="22" height="8" class="pu"/><text x="1191" y="1566" class="tt">BC-6.1</text>
<rect x="1180" y="1580" width="22" height="8" class="pk"/><text x="1191" y="1586" class="tt">A-3.D</text>
<rect x="1180" y="1600" width="22" height="8" class="rd"/><text x="1191" y="1606" class="tt">SW-9</text>
<rect x="1180" y="1620" width="22" height="8" class="gy"/><text x="1191" y="1626" class="tt">MN-01</text>
<rect x="1180" y="1640" width="22" height="8" class="ye"/><text x="1191" y="1646" class="tt">M-2.D</text>
<rect x="1287" y="1580" width="22" height="8" class="rd"/><text x="1298" y="1586" class="tt">SW-4</text>
<rect x="1287" y="1600" width="22" height="8" class="bl"/><text x="1298" y="1606" class="tt">SF-11</text>
<rect x="1287" y="1620" width="22" height="8" class="dg"/><text x="1298" y="1626" class="tt">R-3.D</text>
<rect x="1113" y="1680" width="22" height="8" class="dg"/><text x="1124" y="1686" class="tt">R-2.D</text>
<rect x="1113" y="1700" width="22" height="8" class="bl"/><text x="1124" y="1706" class="tt">SF-11</text>
<rect x="1113" y="1720" width="22" height="8" class="rd"/><text x="1124" y="1726" class="tt">SW-12</text>
<rect x="1113" y="1740" width="22" height="8" class="gr"/><text x="1124" y="1746" class="tt">BB-1.2</text>
<rect x="1113" y="1760" width="22" height="8" class="pu"/><text x="1124" y="1766" class="tt">B1-8.2</text>
<rect x="1433" y="1700" width="22" height="8" class="bl"/><text x="1444" y="1706" class="tt">SF-11</text>
<rect x="1433" y="1720" width="22" height="8" class="rd"/><text x="1444" y="1726" class="tt">SW-12</text>
<rect x="1433" y="1740" width="22" height="8" class="gr"/><text x="1444" y="1746" class="tt">BB-1.2</text>
<rect x="1433" y="1760" width="22" height="8" class="pu"/><text x="1444" y="1766" class="tt">B1-8.2</text>
<circle cx="1072" cy="1768" r="6" fill="#ff80ff" stroke="#333" stroke-width=".6"/><text x="1072" y="1771" class="tt" font-size="7">5</text>
<circle cx="1505" cy="1768" r="6" fill="#ff80ff" stroke="#333" stroke-width=".6"/><text x="1505" y="1771" class="tt" font-size="7">5</text>
<circle cx="1072" cy="531" r="6" fill="#ff80ff" stroke="#333" stroke-width=".6"/><text x="1072" y="534" class="tt" font-size="7">5</text>
<circle cx="2204" cy="531" r="6" fill="#ff80ff" stroke="#333" stroke-width=".6"/><text x="2204" y="534" class="tt" font-size="7">5</text>
<rect x="1242" y="1804" width="22" height="8" class="pk"/><text x="1253" y="1810" class="tt">J-1</text>
<rect x="1242" y="1824" width="22" height="8" class="dg"/><text x="1253" y="1830" class="tt">R-2.D</text>
<rect x="1242" y="1844" width="22" height="8" class="bl"/><text x="1253" y="1850" class="tt">SF-11</text>
<rect x="1365" y="1824" width="22" height="8" class="dg"/><text x="1376" y="1830" class="tt">R-2.D</text>
<rect x="1365" y="1844" width="22" height="8" class="pk"/><text x="1376" y="1850" class="tt">J-1</text>
<rect x="1175" y="1880" width="22" height="8" class="wh"/><text x="1186" y="1886" class="tt">DR-NO</text>
<rect x="1175" y="1900" width="22" height="8" class="pk"/><text x="1186" y="1906" class="tt">A-2.D</text>
<rect x="1242" y="1960" width="22" height="8" class="ye"/><text x="1253" y="1966" class="tt">MM-2</text>
<rect x="1242" y="1980" width="22" height="8" class="bl"/><text x="1253" y="1986" class="tt">SF-3</text>
<rect x="1242" y="2000" width="22" height="8" class="ye"/><text x="1253" y="2006" class="tt">M-2.D</text>
<rect x="1377" y="1960" width="22" height="8" class="ye"/><text x="1388" y="1966" class="tt">MM-2</text>
<rect x="1377" y="1980" width="22" height="8" class="bl"/><text x="1388" y="1986" class="tt">SF-3</text>
<rect x="1377" y="2000" width="22" height="8" class="ye"/><text x="1388" y="2006" class="tt">M-2.D</text>
</g>

<!-- plan title -->
<text x="178" y="2143" font-size="20" fill="#111">1- Plan - SIGNAGE TYPICAL COLO L1</text>
<line x1="178" y1="2150" x2="520" y2="2150" stroke="#111" stroke-width="1.5"/>
<text x="320" y="2163" font-size="8" fill="#111">Scale  1 : 100</text>

<!-- LEGEND -->
<rect x="2410" y="232" width="365" height="1737" fill="none" stroke="#aaa" stroke-width="1.5"/>
<line x1="2410" y1="303" x2="2775" y2="303" stroke="#999" stroke-width="1.2"/>
<text x="2432" y="253" class="lg">SIGNAGE LEGEND</text>
<text x="2432" y="264" class="lg">- ALL SIGNAGE TO BE IN ACCORDANCE WITH HEALTH AND SAFETY AUTHORITY</text>
<text x="2432" y="275" class="lg">- ALL SIGNAGE TO BE IN ACCORDANCE WITH NEN 3011:2015 AND NEN-EN-ISO 7010.</text>
<g>
<rect x="2432" y="327" width="42" height="10" class="wh"/><text x="2453" y="334.5" class="lb">DR-NO</text><text x="2488" y="334.5" class="lg">INTERNAL DOOR NUMBER</text>
<rect x="2432" y="349" width="42" height="10" class="gy"/><text x="2453" y="356.5" class="lb">MN-1</text><text x="2488" y="356.5" class="lg">SAFETY SIGNAGE</text>
<rect x="2432" y="371" width="42" height="10" class="pk"/><text x="2453" y="378.5" class="lb">A-1.1</text><text x="2488" y="378.5" class="lg">DOOR NAMEPLATE (OFFICE)</text>
<rect x="2432" y="393" width="42" height="10" class="pk"/><text x="2453" y="400.5" class="lb">A-2.D</text><text x="2488" y="400.5" class="lg">DOOR NAMEPLATE (NON - OFFICE)</text>
<rect x="2432" y="415" width="42" height="10" class="pk"/><text x="2453" y="422.5" class="lb">A-3.D</text><text x="2488" y="422.5" class="lg">DOOR NAMEPLATE (NON - OFFICE WITH BRAILLE)</text>
<rect x="2432" y="437" width="42" height="10" class="pk"/><text x="2453" y="444.5" class="lb">A-5.2-D</text><text x="2488" y="444.5" class="lg">VISITORS PARKING NOTICE</text>
<rect x="2432" y="459" width="42" height="10" class="gr"/><text x="2453" y="466.5" class="lb">B-1.1</text><text x="2488" y="466.5" class="lg">OFFICE SIGN (WITH BRAILLE &amp; PICTOGRAM)</text>
<rect x="2432" y="481" width="42" height="10" class="gr"/><text x="2453" y="488.5" class="lb">B-1.2</text><text x="2488" y="488.5" class="lg">BREAKOUT SIGN (WITH BRAILLE &amp; PICTOGRAM)</text>
<rect x="2432" y="503" width="42" height="10" class="gr"/><text x="2453" y="510.5" class="lb">BB-1.2</text><text x="2488" y="510.5" class="lg">CORRIDOR SIGN (WITH BRAILLE &amp; PICTOGRAM)</text>
<rect x="2432" y="525" width="42" height="10" class="gr"/><text x="2453" y="532.5" class="lb">B-1.D</text><text x="2488" y="532.5" class="lg">DOOR NAMEPLATE (COLO ROOMS)</text>
<rect x="2432" y="547" width="42" height="10" class="gr"/><text x="2453" y="554.5" class="lb">BB-1.E</text><text x="2488" y="554.5" class="lg">DOOR NAMEPLATE (LOADING BAYS)</text>
<rect x="2432" y="569" width="42" height="10" class="gr"/><text x="2453" y="576.5" class="lb">BB-1.F</text><text x="2488" y="576.5" class="lg">NAMEPLATE (SPRINKLER RISER)</text>
<rect x="2432" y="591" width="42" height="10" class="gr"/><text x="2453" y="598.5" class="lb">B-2</text><text x="2488" y="598.5" class="lg">TOILET SIGN - UNISEX (WITH BRAILLE &amp; PICTOGRAM)</text>
<rect x="2432" y="613" width="42" height="10" class="gr"/><text x="2453" y="620.5" class="lb">B-2.1</text><text x="2488" y="620.5" class="lg">TOILET SIGN - UNISEX SYMBOL</text>
<rect x="2432" y="635" width="42" height="10" class="gr"/><text x="2453" y="642.5" class="lb">B-3</text><text x="2488" y="642.5" class="lg">TOILET SIGN - FEMALE SYMBOL</text>
<rect x="2432" y="657" width="42" height="10" class="gr"/><text x="2453" y="664.5" class="lb">B-4</text><text x="2488" y="664.5" class="lg">TOILET SIGN - MALE SYMBOL</text>
<rect x="2432" y="679" width="42" height="10" class="gr"/><text x="2453" y="686.5" class="lb">B-6.D</text><text x="2488" y="686.5" class="lg">STAIR LEVEL INDICATOR - ROOF ACCESS</text>
<rect x="2432" y="701" width="42" height="10" class="gr"/><text x="2453" y="708.5" class="lb">BI-8.2</text><text x="2488" y="708.5" class="lg">COLO GRID SIGNAGE WALL MOUNTED</text>
<rect x="2432" y="723" width="42" height="10" class="gr"/><text x="2453" y="730.5" class="lb">BI-8.4</text><text x="2488" y="730.5" class="lg">COLO GRID SIGNAGE CEILING MOUNTED</text>

<rect x="2432" y="770" width="42" height="10" class="pk"/><text x="2453" y="777.5" class="lb">J-1</text><text x="2488" y="777.5" class="lg">WAYFINDING / FIRE MAP HOLDER (WITH BRAILLE &amp; PICTOGRAM) - INTERNAL</text>
<rect x="2432" y="792" width="42" height="10" class="ye"/><text x="2453" y="799.5" class="lb">L-D.1</text><text x="2488" y="799.5" class="lg">BUILDING MAIN ENTRANCE</text>
<rect x="2432" y="814" width="42" height="10" class="ye"/><text x="2453" y="821.5" class="lb">M-D.1</text><text x="2488" y="821.5" class="lg">BREAK ROOM TO PATIO DOOR</text>
<rect x="2432" y="836" width="42" height="10" class="ye"/><text x="2453" y="843.5" class="lb">MM-2</text><text x="2488" y="843.5" class="lg">EMERGENCY EXIT</text>
<rect x="2432" y="858" width="42" height="10" class="ye"/><text x="2453" y="865.5" class="lb">M-2.D</text><text x="2488" y="865.5" class="lg">EMERGENCY EXIT ONLY - ALARM WILL SOUND</text>
<rect x="2432" y="880" width="42" height="10" class="ye"/><text x="2453" y="887.5" class="lb">M-3.D</text><text x="2488" y="887.5" class="lg">ALARMED DOOR - ALARM WILL SOUND IF OPENED</text>
<rect x="2432" y="902" width="42" height="10" class="sa"/><text x="2453" y="909.5" class="lb">N-1.D</text><text x="2488" y="909.5" class="lg">CODE SIGN - ROOF ACCESS</text>
<rect x="2432" y="924" width="42" height="10" class="sa"/><text x="2453" y="931.5" class="lb">N-5.D</text><text x="2488" y="931.5" class="lg">CODE SIGN - EMERGENCY EXIT ONLY</text>
<rect x="2432" y="946" width="42" height="10" class="gy"/><text x="2453" y="953.5" class="lb">O</text><text x="2488" y="953.5" class="lg">RECYCLE CABINET</text>
<rect x="2432" y="968" width="42" height="10" class="dg"/><text x="2453" y="975.5" class="lb">R-2.D</text><text x="2488" y="975.5" class="lg">INTERIOR PHONE</text>
<rect x="2432" y="990" width="42" height="10" class="dg"/><text x="2453" y="997.5" class="lb">R-2.D.1</text><text x="2488" y="997.5" class="lg">INTERIOR PHONE DAC AREA</text>
<rect x="2432" y="1012" width="42" height="10" class="bl"/><text x="2453" y="1019.5" class="lb">SF-3</text><text x="2488" y="1019.5" class="lg">FIRE SAFETY - PUSH BAR</text>
<rect x="2432" y="1034" width="42" height="10" class="bl"/><text x="2453" y="1041.5" class="lb">SF-5</text><text x="2488" y="1041.5" class="lg">SAFETY SIGN - EYE WASH STATION ID</text>
<rect x="2432" y="1056" width="42" height="10" class="bl"/><text x="2453" y="1063.5" class="lb">SF-6</text><text x="2488" y="1063.5" class="lg">SAFETY SIGN - FIRST AID CABINET ID</text>
<rect x="2432" y="1078" width="42" height="10" class="bl"/><text x="2453" y="1085.5" class="lb">SF-9</text><text x="2488" y="1085.5" class="lg">FIRE SAFETY - FIRE EXTINGUISHER</text>
<rect x="2432" y="1100" width="42" height="10" class="bl"/><text x="2453" y="1107.5" class="lb">SF-10</text><text x="2488" y="1107.5" class="lg">FIRE SAFETY - LIFT NOTICE</text>
<rect x="2432" y="1122" width="42" height="10" class="bl"/><text x="2453" y="1129.5" class="lb">SF-10.1</text><text x="2488" y="1129.5" class="lg">FIRE SAFETY - LIFT NOTICE (INSIDE LIFT)</text>
<rect x="2432" y="1144" width="42" height="10" class="bl"/><text x="2453" y="1151.5" class="lb">SF-11</text><text x="2488" y="1151.5" class="lg">FIRE SAFETY - EMERGENCY PHONE</text>
<rect x="2432" y="1166" width="42" height="10" class="bl"/><text x="2453" y="1173.5" class="lb">SF-13</text><text x="2488" y="1173.5" class="lg">FIRE SAFETY - SPRINKLER CONTROL VALVE</text>
<rect x="2432" y="1188" width="42" height="10" class="bl"/><text x="2453" y="1195.5" class="lb">SF-14</text><text x="2488" y="1195.5" class="lg">SAFETY SIGN - AED</text>
<rect x="2432" y="1210" width="42" height="10" class="rd"/><text x="2453" y="1217.5" class="lb">SW-1</text><text x="2488" y="1217.5" class="lg">WARNING SIGN - RISK OF FALLING</text>
<rect x="2432" y="1232" width="42" height="10" class="rd"/><text x="2453" y="1239.5" class="lb">SW-2</text><text x="2488" y="1239.5" class="lg">WARNING SIGN - ELECTRICAL SHOCK RISK</text>
<rect x="2432" y="1254" width="42" height="10" class="rd"/><text x="2453" y="1261.5" class="lb">SW-3</text><text x="2488" y="1261.5" class="lg">WARNING SIGN - REDUCED HEADROOM</text>
<rect x="2432" y="1276" width="42" height="10" class="rd"/><text x="2453" y="1283.5" class="lb">SW-4</text><text x="2488" y="1283.5" class="lg">WARNING SIGN - HAZARDOUS SUBSTANCES</text>
<text x="2488" y="1305.5" class="lg">NOTE: 24NO SIGNS TO ALL LOCATIONS</text>
<rect x="2432" y="1320" width="42" height="10" class="rd"/><text x="2453" y="1327.5" class="lb">SW-7</text><text x="2488" y="1327.5" class="lg">WARNING SIGN - AUTOMATIC START</text>
<rect x="2432" y="1342" width="42" height="10" class="rd"/><text x="2453" y="1349.5" class="lb">SW-8</text><text x="2488" y="1349.5" class="lg">WARNING SIGN - LOCKOUT / TAGOUT</text>
<rect x="2432" y="1364" width="42" height="10" class="rd"/><text x="2453" y="1371.5" class="lb">SW-9</text><text x="2488" y="1371.5" class="lg">WARNING SIGN - CONFINED SPACE WARNING</text>
<rect x="2432" y="1386" width="42" height="10" class="rd"/><text x="2453" y="1393.5" class="lb">SW-9.A</text><text x="2488" y="1393.5" class="lg">WARNING SIGN - CONFINED SPACE WARNING (EXTERNAL)</text>
<rect x="2432" y="1408" width="42" height="10" class="rd"/><text x="2453" y="1415.5" class="lb">SW-12</text><text x="2488" y="1415.5" class="lg">WARNING SIGN - MANDATORY EAR PROTECTION</text>
<rect x="2432" y="1430" width="42" height="10" class="rd"/><text x="2453" y="1437.5" class="lb">SW-17</text><text x="2488" y="1437.5" class="lg">WARNING SIGN - GRILLE LOAD - ROOF AREA</text>
<rect x="2432" y="1452" width="42" height="10" class="bl"/><text x="2453" y="1459.5" class="lb">EX-01</text><text x="2488" y="1459.5" class="lg">EXIT SIGN</text>
<rect x="2432" y="1474" width="42" height="10" class="bl"/><text x="2453" y="1481.5" class="lb">EX-02</text><text x="2488" y="1481.5" class="lg">CAMERA SIGN</text>
<rect x="2432" y="1496" width="42" height="10" class="bl"/><text x="2453" y="1503.5" class="lb">EX-03</text><text x="2488" y="1503.5" class="lg">NO SMOKING WITHIN 7.5m OF THIS ENTRANCE</text>
<rect x="2432" y="1518" width="42" height="10" class="bl"/><text x="2453" y="1525.5" class="lb">EX-04</text><text x="2488" y="1525.5" class="lg">NO SMOKING WITHIN 7.5m OF COMPOUND</text>
<rect x="2432" y="1540" width="42" height="10" class="bl"/><text x="2453" y="1547.5" class="lb">EX-05</text><text x="2488" y="1547.5" class="lg">WARNING NO UNAUTHORISED</text><text x="2488" y="1558.5" class="lg">ACCESS BEYOND THIS POINT ENTRY BY PERMIT</text><text x="2488" y="1569.5" class="lg">ONLY</text>
<rect x="2432" y="1585" width="42" height="10" class="bl"/><text x="2453" y="1592.5" class="lb">EX-06</text><text x="2488" y="1583.5" class="lg">WARNING NO UNAUTHORISED</text><text x="2488" y="1594.5" class="lg">ACCESS BEYOND THIS POINT ENTRY BY PERMIT ONLY</text>
<rect x="2432" y="1607" width="42" height="10" class="pu"/><text x="2453" y="1614.5" class="lb">O</text><text x="2488" y="1614.5" class="lg">BY OTHERS</text>
<rect x="2432" y="1629" width="42" height="10" class="pu"/><text x="2453" y="1636.5" class="lb">B1-8.2</text><text x="2488" y="1636.5" class="lg">BY OTHERS</text>
<rect x="2432" y="1651" width="42" height="10" class="pu"/><text x="2453" y="1658.5" class="lb">BC-6.1</text><text x="2488" y="1658.5" class="lg">BY OTHERS</text>
<rect x="2432" y="1673" width="42" height="10" class="pu"/><text x="2453" y="1680.5" class="lb">HAC1</text><text x="2488" y="1680.5" class="lg">BY CLIENT</text>
<rect x="2432" y="1695" width="42" height="10" class="pu"/><text x="2453" y="1702.5" class="lb">HAC3</text><text x="2488" y="1702.5" class="lg">BY CLIENT</text>
<polygon points="2447,1722 2450,1717 2456,1717 2459,1722 2456,1727 2450,1727" class="pk"/><text x="2453" y="1724.5" class="lb">1</text><text x="2488" y="1724.5" class="lg">FIRST AID BOX, EYE WASH STATION &amp; HAND SANITISER</text>
<polygon points="2447,1744 2450,1739 2456,1739 2459,1744 2456,1749 2450,1749" class="pk"/><text x="2453" y="1746.5" class="lb">5</text><text x="2488" y="1746.5" class="lg">HAND SANITISER &amp; EAR DEFENDERS</text>
<polygon points="2447,1766 2450,1761 2456,1761 2459,1766 2456,1771 2450,1771" class="pk"/><text x="2453" y="1768.5" class="lb">7</text><text x="2488" y="1768.5" class="lg">WATERPROOF ENCLOSURE WITH FIRST AID BOX</text><text x="2488" y="1777.5" class="lg">+ HAND SANITISER + EAR DEFENDERS</text>
</g>
<g class="lg">
<text x="2478" y="1820">1. AHU CONTRACTOR TO  SUPPLY ALL CODE SIGNAGE INCLUDING AHU</text>
<text x="2478" y="1831.3">NUMBER / NAME SIGNAGE. CONTRACTOR TO ENSURE ALL SAFETY</text>
<text x="2478" y="1842.6">SIGNAGE TO COMPLY WITH REGULATIONS</text>
<text x="2478" y="1853.9">2. GENERATOR CONTRACTOR TO SUPPLY ALL CODE SIGNAGE INCLUDING</text>
<text x="2478" y="1865.2">GENERATOR NUMBER / NAME SIGNAGE CONTRACTOR TO ENSURE ALL</text>
<text x="2478" y="1876.5">SAFETY SIGNAGE COMPLY WITH REGULATIONS</text>
<text x="2478" y="1887.8">3. LARGE WALL MOUNTED SIGNS GREATER THAN 600x600 TO BE SUPPLIED</text>
<text x="2478" y="1899.1">BY CLIENT. THESE ARE NOT INCLUDED ON THIS SCHEDULE</text>
<text x="2478" y="1910.4">4. HAZARDOUS MATERIAL SIGNAGE FITTED TO DOORS OF EACH BATTERY</text>
<text x="2478" y="1921.7">CABINET IN EACH ELECTRICAL ROOM. REFER TO ELECTRICAL DRAWINGS</text>
<text x="2478" y="1933">FOR LOCATIONS OF EQUIPMENT</text>
<text x="2478" y="1944.3">5. SIGN MN-01 SUPPLIED BY CLIENT, SHOWN ON DRAWING FOR</text>
<text x="2478" y="1955.6">ILLUSTRATIVE &amp; CO-ORDINATION PURPOSES ONLY.</text>
</g>

<!-- TITLE BLOCK -->
<rect x="2959" y="38" width="248" height="2230" fill="none" stroke="#999" stroke-width="1.2"/>
<text x="3215" y="120" font-size="6.5" fill="#333" transform="rotate(90 3215 120)" text-anchor="middle">8-1-2020 17:25:58</text>
<g font-size="9" fill="#222">
<text x="3088" y="57" text-anchor="middle">Approvals</text>
<path d="M2973,67H3195 M2973,112H3195 M2973,126H3195 M2973,141H3195 M2973,156H3195 M2973,170H3195 M2973,185H3195" stroke="#bbb" stroke-width="1"/>
<text x="2973" y="86" class="tb">Customer</text><text x="3152" y="86" class="tb">Date</text>
<text x="3026" y="112" font-size="10">MICROSOFT</text>
<text x="3064" y="134">GREG LYNCH</text>
<text x="2973" y="143" class="tb">Microsoft Mechanical Engineer</text><text x="3152" y="143" class="tb">Date</text>
<text x="3064" y="155">CATHAL O'SULLIVAN</text>
<text x="2973" y="164" class="tb">Microsoft Telecom Engineer</text>
<text x="3064" y="173">ALAN KELLET</text>
<text x="2973" y="183" class="tb">Microsoft Electrical Engineer</text>
<text x="3064" y="192">DREW REEVES</text>
<text x="2973" y="202" class="tb">Engineering Manager</text>
<text x="3064" y="211">MICHAEL O' DONNELL</text>
<text x="2973" y="220" class="tb">Security Manager</text>
<text x="3064" y="231">TIM SADLER, SONDWIP DHAR</text>
<text x="2973" y="242" class="tb">CSA</text>
</g>
<path d="M2973,213H3195 M2973,235H3195" stroke="#bbb" stroke-width="1"/>
<text x="2973" y="281" font-size="10.5" font-weight="bold" fill="#111">General Notes:</text>
<g class="gn">
<text x="2974" y="316">A.</text><text x="3009" y="316">This is not an installation drawing and</text>
<text x="3009" y="326.9">shows design intent information only.</text>
<text x="2974" y="337.8">B.</text><text x="3009" y="337.8">All dimensions are in millimeters (mm)</text>
<text x="3009" y="348.7">unless noted otherwise. All levels are in</text>
<text x="3009" y="359.6">metres (m) unless stated otherwise.</text>
<text x="2974" y="370.5">C.</text><text x="3009" y="370.5">Do not scale; work to figures</text>
<text x="3009" y="381.4">dimensions only. This drawing shall be</text>
<text x="3009" y="392.3">read in conjunction with building</text>
<text x="3009" y="403.2">services documents and other relevant</text>
<text x="3009" y="414.1">contract documents.</text>
<text x="2974" y="425">D.</text><text x="3009" y="425">Equipment and plant details are not</text>
<text x="3009" y="435.9">manufacturer specific. Contractor</text>
<text x="3009" y="446.8">selected equipment shall meet the</text>
<text x="3009" y="457.7">given constraints and long lead</text>
<text x="3009" y="468.6">equipment will be coordinated by the</text>
<text x="3009" y="479.5">GC based on final equipment selection.</text>
<text x="2974" y="490.4">E.</text><text x="3009" y="490.4">All service penetrations through fire,</text>
<text x="3009" y="501.3">acoustic, thermal, air and watertight</text>
<text x="3009" y="512.2">compartments shall be sealed to</text>
<text x="3009" y="523.1">achieve performance rating equivalent</text>
<text x="3009" y="534">to the compartment and shall be</text>
<text x="3009" y="544.9">designed to accommodate movement.</text>
<text x="2974" y="555.8">F.</text><text x="3009" y="555.8">All services penetrations through fire</text>
<text x="3009" y="566.7">rated compartments shall be fire</text>
<text x="3009" y="577.6">stopped to achieve a rating equivalent</text>
<text x="3009" y="588.5">to the compartment and shall be</text>
<text x="3009" y="599.4">designed to accomodate thermal</text>
<text x="3009" y="610.3">movement.</text>
<text x="2974" y="621.2">G.</text><text x="3009" y="621.2">All services crossing the movement</text>
<text x="3009" y="632.1">joints  shall be installed to accomodate</text>
<text x="3009" y="643">the movements as defined in the</text>
<text x="3009" y="653.9">Structural Engineers Contract</text>
<text x="3009" y="664.8">documentation.</text>
<text x="2974" y="675.7">H.</text><text x="3009" y="675.7">The Contractor will produce fully</text>
<text x="3009" y="686.6">coordinated installation drawings prior</text>
<text x="3009" y="697.5">to installation for approval.</text>
<text x="2974" y="708.4">I.</text><text x="3009" y="708.4">The Contractor will produce as built</text>
<text x="3009" y="719.3">drawings prior to handover for</text>
<text x="3009" y="730.2">approval.</text>
</g>

<!-- revision -->
<g fill="#222">
<text x="2981" y="1503" font-size="9.5">C01</text><text x="3021" y="1503" font-size="9.5">12/11/19  IFC - Issue For Construction</text>
<path d="M2973,1508H3195 M2973,1520H3195 M2973,1532H3195 M3017,1508V1532 M3061,1508V1532 M3105,1508V1532 M3149,1508V1532" stroke="#999" stroke-width=".8" fill="none"/>
<text x="3083" y="1517" class="tb" text-anchor="middle">DF</text><text x="3127" y="1517" class="tb" text-anchor="middle">MM</text><text x="3171" y="1517" class="tb" text-anchor="middle">RA</text>
<text x="2995" y="1529" class="tb" text-anchor="middle">Rev</text><text x="3039" y="1529" class="tb" text-anchor="middle">Date</text><text x="3083" y="1529" class="tb" text-anchor="middle">By</text><text x="3127" y="1529" class="tb" text-anchor="middle">Chkd</text><text x="3171" y="1529" class="tb" text-anchor="middle">Appd</text>
<text x="2972" y="1600" font-family="Liberation Serif,serif" font-size="38" letter-spacing="1">ARUP</text>
<text x="2973" y="1637" font-size="5.5">13 Fitzroy Street</text>
<text x="2973" y="1642" font-size="5.5">London W1T 4BQ</text>
<text x="2973" y="1647" font-size="5.5">Tel +44(0)20 7636 1531 Fax +44(0)20 7580 3924</text>
<text x="2973" y="1652" font-size="5.5">www.arup.com</text>
<path d="M2973,1656H3195 M2973,1718H3195 M2973,1793H3195 M2973,2048H3195 M2973,2128H3195 M2973,2150H3195 M2973,2172H3195 M2973,2194H3195 M2973,2226H3195 M3147,2194V2226" stroke="#999" stroke-width=".8" fill="none"/>
<text x="2973" y="1664" class="tb">Client</text>
<text x="2973" y="1693" font-size="13">Microsoft</text>
<rect x="3051" y="1677" width="14" height="14" fill="#f25022"/><rect x="3066" y="1677" width="14" height="14" fill="#7fba00"/>
<rect x="3051" y="1692" width="14" height="14" fill="#00a4ef"/><rect x="3066" y="1692" width="14" height="14" fill="#ffb900"/>
<text x="3088" y="1701" font-size="26" font-weight="bold" fill="#737373" letter-spacing="-1">Microsoft</text>
<text x="2973" y="1726" class="tb">Project Title</text>
<text x="2973" y="1747" font-size="14">AMS 13</text>
<text x="2973" y="1803" class="tb">Key Plan</text>
</g>
<!-- key plan -->
<g stroke="#999" stroke-width=".8" fill="none">
<rect x="3064" y="1802" width="60" height="237" stroke="#6c6" stroke-width="1.5"/>
<rect x="3066" y="1805" width="56" height="232" stroke="#111" stroke-width="1.5"/>
<line x1="3066" y1="1811" x2="3122" y2="1811" stroke="#111"/>
<path d="M3066,2008H3074V2037 M3122,2008H3114V2037" stroke="#111"/>
<rect x="3035" y="1814" width="22" height="4"/><rect x="3035" y="1824" width="22" height="4"/>
<rect x="3035" y="1836" width="22" height="4"/><rect x="3035" y="1846" width="22" height="4"/>
<rect x="3035" y="1859" width="22" height="4"/><rect x="3035" y="1869" width="22" height="4"/>
<rect x="3035" y="1882" width="22" height="4"/><rect x="3035" y="1892" width="22" height="4"/>
<rect x="3035" y="1904" width="22" height="4"/><rect x="3035" y="1914" width="22" height="4"/>
<rect x="3130" y="1814" width="22" height="4"/><rect x="3130" y="1824" width="22" height="4"/>
<rect x="3130" y="1836" width="22" height="4"/><rect x="3130" y="1846" width="22" height="4"/>
<rect x="3130" y="1859" width="22" height="4"/><rect x="3130" y="1869" width="22" height="4"/>
<rect x="3130" y="1882" width="22" height="4"/><rect x="3130" y="1892" width="22" height="4"/>
<rect x="3130" y="1904" width="22" height="4"/><rect x="3130" y="1914" width="22" height="4"/>
</g>
<g font-size="5" fill="#333">
<text x="3004" y="1819">COLO 5</text><text x="3008" y="1824">CE 2/4</text><text x="3157" y="1819">COLO 5</text><text x="3157" y="1824">CE 1/3</text>
<text x="3004" y="1841">COLO 4</text><text x="3008" y="1846">CE 2/4</text><text x="3157" y="1841">COLO 4</text><text x="3157" y="1846">CE 1/3</text>
<text x="3004" y="1864">COLO 3</text><text x="3008" y="1869">CE 2/4</text><text x="3157" y="1864">COLO 3</text><text x="3157" y="1869">CE 1/3</text>
<text x="3004" y="1887">COLO 2</text><text x="3008" y="1892">CE 2/4</text><text x="3157" y="1887">COLO 2</text><text x="3157" y="1892">CE 1/3</text>
<text x="3004" y="1909">COLO 1</text><text x="3008" y="1914">CE 2/4</text><text x="3157" y="1909">COLO 1</text><text x="3157" y="1914">CE 1/3</text>
<text x="3127" y="2013">ADMIN</text>
</g>
<g fill="#222">
<text x="2973" y="2056" class="tb">Drawing Title</text>
<text x="2973" y="2071" font-size="15.5">TYPICAL COLO SIGNAGE PLAN L1</text>
<text x="2973" y="2137" class="tb">Scale at A0</text><text x="3017" y="2146" font-size="9">As indicated</text>
<text x="2973" y="2159" class="tb">Role</text><text x="3017" y="2168" font-size="9">Architecture</text>
<text x="2973" y="2181" class="tb">Suitability</text><text x="3017" y="2190" font-size="9">A3</text>
<text x="2973" y="2201" class="tb">Arup Job No</text><text x="3152" y="2201" class="tb">Rev</text>
<text x="2973" y="2217" font-size="13" font-weight="bold">271309</text><text x="3152" y="2217" font-size="13" font-weight="bold">C01</text>
<text x="2973" y="2233" class="tb">Name</text>
<text x="2973" y="2250" font-size="13" font-weight="bold">AMS13_A-S-009</text>
</g>
</svg>
</body></html>
